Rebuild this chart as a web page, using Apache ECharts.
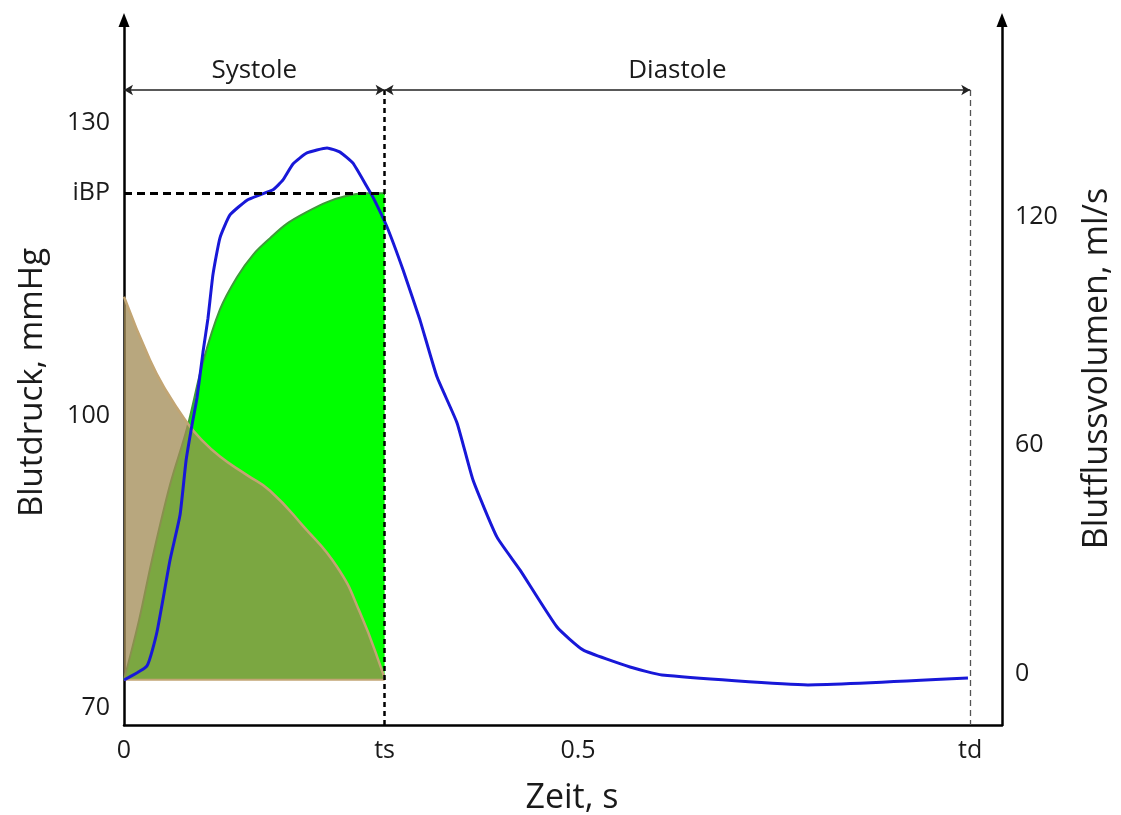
<!DOCTYPE html>
<html>
<head>
<meta charset="utf-8">
<script src="https://cdn.jsdelivr.net/npm/echarts@6/dist/echarts.min.js"></script>
<style>
  html, body { margin: 0; padding: 0; background: #ffffff; }
  #chart { width: 1121px; height: 815px; }
</style>
</head>
<body>
<div id="chart"></div>
<script>
// Cardiac cycle timing (s)
const TS = 0.287;   // end of systole
const TD = 0.932;   // end of diastole

// Pressure levels (mmHg)
const P_BASE = 72.9;
const P_IBP = 122.8;

// Rising pressure curve during systole (green)
const riseTime = [0, 0.0165, 0.0308, 0.0507, 0.0694, 0.0870, 0.1057, 0.1244, 0.1421,
                  0.1608, 0.1795, 0.2015, 0.2236, 0.2434, 0.2654, 0.287];
const risePressure = [72.9, 79.0, 85.2, 92.9, 98.7, 105.5, 110.9, 114.2, 116.5,
                      118.2, 119.7, 120.9, 121.9, 122.5, 122.8, 122.8];

// Falling pressure curve during systole (brown)
const fallTime = [0, 0.0286, 0.0474, 0.0694, 0.0837, 0.1057, 0.1355, 0.1608,
                  0.1971, 0.2346, 0.2599, 0.2852, 0.287];
const fallPressure = [112.2, 105.7, 102.4, 99.3, 97.7, 95.8, 93.9, 92.3,
                      88.7, 84.5, 79.8, 73.6, 72.9];

// Blood flow volume over the whole cycle (ml/s)
const flowTime = [0, 0.0253, 0.0363, 0.0507, 0.0617, 0.0683, 0.0749, 0.0804, 0.0870,
                  0.0925, 0.0980, 0.1057, 0.1167, 0.1355, 0.1498, 0.1641, 0.1751, 0.1861,
                  0.2015, 0.2236, 0.2379, 0.2522, 0.2676, 0.2742, 0.2896, 0.3073, 0.3260,
                  0.3447, 0.3668, 0.3844, 0.4108, 0.4361, 0.4769, 0.5055, 0.5573, 0.5925,
                  0.7533, 0.9295];
const flowVolume = [-1.7, 2.0, 10.9, 29.8, 41.6, 55.8, 65.3, 72.4, 84.4,
                    93.3, 104.8, 114.4, 120.4, 124.3, 125.7, 127.0, 129.6, 133.8,
                    136.7, 138.0, 136.9, 134.0, 127.8, 125.1, 117.3, 106.0, 92.8,
                    77.9, 65.8, 50.8, 35.8, 27.2, 12.2, 6.2, 1.7, -0.4,
                    -3.0, -1.2];

// Tick labels
const xTickValues = [0, TS, 0.5, TD];
const xTickLabels = ['0', 'ts', '0.5', 'td'];
const leftTickValues = [70, 100, P_IBP, 130];
const leftTickLabels = ['70', '100', 'iBP', '130'];
const rightTickValues = [0, 60, 120];
const rightTickLabels = ['0', '60', '120'];

const pairs = (xs, ys) => xs.map((x, i) => [x, ys[i]]);
const labelFor = (values, labels) => (v) => {
  const i = values.findIndex(t => Math.abs(t - v) < 1e-6);
  return i >= 0 ? labels[i] : '';
};

const FONT = '"Open Sans", "DejaVu Sans", sans-serif';
const TEXT = '#1a1a1a';
const ARROW_LEVEL = 133.4;   // height of the phase arrows, in mmHg
const LEFT_MIN = 68.27, LEFT_MAX = 140.58;

const chart = echarts.init(document.getElementById('chart'), null, { renderer: 'canvas' });

const axisLineStyle = { color: '#000', width: 2.5 };

chart.setOption({
  animation: false,
  backgroundColor: '#ffffff',
  textStyle: { fontFamily: FONT },
  grid: { left: 124, right: 119, top: 20, bottom: 90, outerBoundsMode: 'none' },
  xAxis: {
    type: 'value',
    min: 0,
    max: 0.967,
    name: 'Zeit, s',
    nameLocation: 'middle',
    nameGap: 56,
    nameTextStyle: { fontSize: 34, color: TEXT, fontFamily: FONT, padding: [0, 0, 0, 18] },
    axisLine: { show: true, onZero: false, lineStyle: axisLineStyle },
    axisTick: { show: false },
    splitLine: { show: false },
    axisLabel: {
      customValues: xTickValues,
      formatter: labelFor(xTickValues, xTickLabels),
      fontSize: 25, color: TEXT, fontFamily: FONT, margin: 13
    }
  },
  yAxis: [
    {
      type: 'value',
      position: 'left',
      min: LEFT_MIN,
      max: LEFT_MAX,
      name: 'Blutdruck, mmHg',
      nameLocation: 'middle',
      nameGap: 75,
      nameTextStyle: { fontSize: 33, color: TEXT, fontFamily: FONT, padding: [0, 20, 0, 0] },
      axisLine: { show: true, onZero: false, lineStyle: axisLineStyle,
                  symbol: ['none', 'triangle'], symbolSize: [11, 14] },
      axisTick: { show: false },
      splitLine: { show: false },
      axisLabel: {
        customValues: leftTickValues,
        formatter: labelFor(leftTickValues, leftTickLabels),
        fontSize: 25, color: TEXT, fontFamily: FONT, margin: 14
      }
    },
    {
      type: 'value',
      position: 'right',
      min: -13.52,
      max: 171.6,
      name: 'Blutflussvolumen, ml/s',
      nameLocation: 'middle',
      nameGap: 78,
      nameTextStyle: { fontSize: 34, color: TEXT, fontFamily: FONT, padding: [0, 0, 0, 8] },
      axisLine: { show: true, onZero: false, lineStyle: axisLineStyle,
                  symbol: ['none', 'triangle'], symbolSize: [11, 14] },
      axisTick: { show: false },
      splitLine: { show: false },
      axisLabel: {
        customValues: rightTickValues,
        formatter: labelFor(rightTickValues, rightTickLabels),
        fontSize: 25, color: TEXT, fontFamily: FONT, margin: 13
      }
    }
  ],
  series: [
    {
      name: 'rise',
      type: 'line',
      yAxisIndex: 0,
      data: pairs(riseTime, risePressure),
      smooth: 0.35,
      symbol: 'none',
      lineStyle: { color: '#3f9a3a', width: 2 },
      areaStyle: { color: '#00ff00', opacity: 1, origin: P_BASE },
      z: 2,
      markLine: {
        silent: true,
        symbol: ['none', 'none'],
        label: { show: false },
        emphasis: { disabled: true },
        data: [
          [ { coord: [0, P_IBP], lineStyle: { color: '#000', width: 3, type: [8, 5] } },
            { coord: [TS, P_IBP] } ],
          [ { coord: [TS, ARROW_LEVEL], lineStyle: { color: '#000', width: 2.5, type: [5, 4] } },
            { coord: [TS, LEFT_MIN] } ],
          [ { coord: [TD, ARROW_LEVEL], lineStyle: { color: '#555', width: 1.3, type: [6, 4] } },
            { coord: [TD, LEFT_MIN] } ]
        ]
      }
    },
    {
      name: 'fall',
      type: 'line',
      yAxisIndex: 0,
      data: pairs(fallTime, fallPressure),
      smooth: 0.5,
      symbol: 'none',
      lineStyle: { color: '#c2a573', width: 2.5 },
      areaStyle: { color: 'rgba(162,139,85,0.76)', opacity: 1, origin: P_BASE },
      z: 3,
      markLine: {
        silent: true,
        symbol: ['arrow', 'arrow'],
        symbolSize: [8, 9],
        lineStyle: { color: '#222', width: 1.6, type: 'solid' },
        emphasis: { disabled: true },
        label: {
          show: true, position: 'middle', distance: 6,
          fontSize: 26, color: TEXT, fontFamily: FONT
        },
        data: [
          [ { coord: [0, ARROW_LEVEL], name: 'Systole', label: { formatter: 'Systole' } },
            { coord: [TS, ARROW_LEVEL] } ],
          [ { coord: [TS, ARROW_LEVEL], name: 'Diastole', label: { formatter: 'Diastole' } },
            { coord: [TD, ARROW_LEVEL] } ]
        ]
      }
    },
    {
      name: 'baseline',
      type: 'line',
      yAxisIndex: 0,
      data: [[0, P_BASE], [TS, P_BASE]],
      symbol: 'none',
      lineStyle: { color: '#c2a573', width: 2 },
      z: 3
    },
    {
      name: 'flow',
      type: 'line',
      yAxisIndex: 1,
      data: pairs(flowTime, flowVolume),
      smooth: 0.15,
      symbol: 'none',
      lineStyle: { color: '#1818d8', width: 3 },
      z: 4
    }
  ]
});
</script>
</body>
</html>
